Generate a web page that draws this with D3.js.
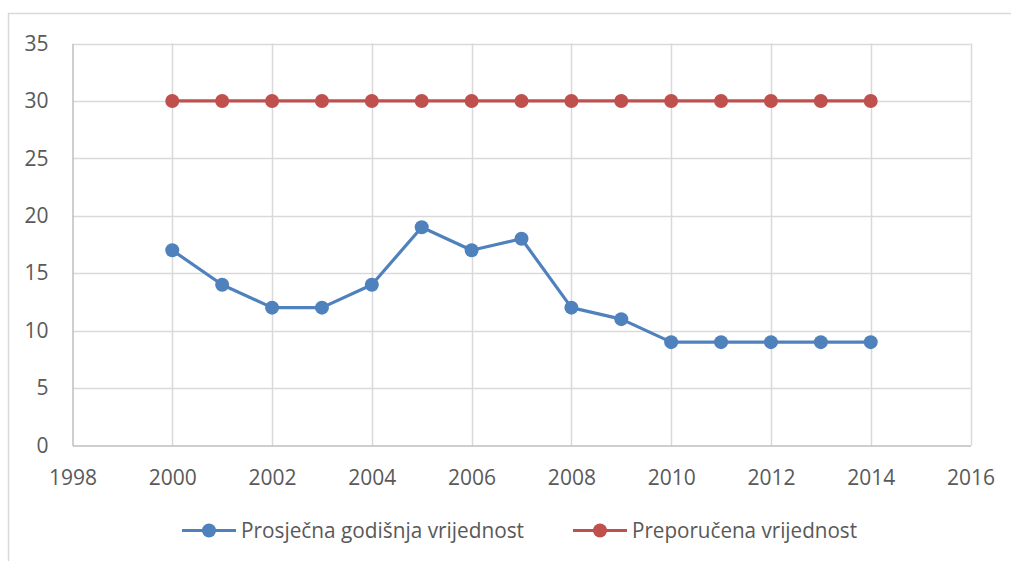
<!DOCTYPE html>
<html><head><meta charset="utf-8">
<script src="https://cdn.jsdelivr.net/npm/d3@7"></script>
<style>body{margin:0;background:#fff}svg{display:block}</style>
</head><body>
<svg id="c" width="1011" height="561"></svg>
<script>
const years = [2000,2001,2002,2003,2004,2005,2006,2007,2008,2009,2010,2011,2012,2013,2014];
const prosjecna = [17,14,12,12,14,19,17,18,12,11,9,9,9,9,9];
const preporucena = [30,30,30,30,30,30,30,30,30,30,30,30,30,30,30];
const seriesNames = ["Prosječna godišnja vrijednost","Preporučena vrijednost"];
const colors = ["#4f81bd","#c0504d"];
const xTicks = [1998,2000,2002,2004,2006,2008,2010,2012,2014,2016];
const yTicks = [0,5,10,15,20,25,30,35];

const svg = d3.select("#c");
const font = "'Open Sans', sans-serif";
// outer chart border
svg.append("rect").attr("x",8.5).attr("y",13.5).attr("width",1010).attr("height",560)
  .attr("fill","none").attr("stroke","#d9d9d9").attr("stroke-width",1.5);

const x = d3.scaleLinear().domain([1998,2016]).range([72.5,970.5]);
const y = d3.scaleLinear().domain([0,35]).range([445.5,43.5]);

const g = svg.append("g");
// gridlines
g.selectAll(".hg").data(yTicks.filter(d=>d>0)).join("line")
  .attr("x1",x(1998)).attr("x2",x(2016)).attr("y1",d=>Math.round(y(d))+0.5).attr("y2",d=>Math.round(y(d))+0.5)
  .attr("stroke","#d9d9d9").attr("stroke-width",1.5);
g.selectAll(".vg").data(xTicks.filter(d=>d>1998)).join("line")
  .attr("y1",y(0)).attr("y2",y(35)).attr("x1",d=>Math.round(x(d))+0.5).attr("x2",d=>Math.round(x(d))+0.5)
  .attr("stroke","#d9d9d9").attr("stroke-width",1.5);

// axes
const xAxis = d3.axisBottom(x).tickValues(xTicks).tickFormat(d3.format("d")).tickSize(0).tickPadding(25);
const yAxis = d3.axisLeft(y).tickValues(yTicks).tickSize(0).tickPadding(24);
const gx = svg.append("g").attr("transform",`translate(0,${y(0)})`).call(xAxis);
const gy = svg.append("g").attr("transform",`translate(${x(1998)},0)`).call(yAxis);
[gx,gy].forEach(a=>{
  a.select(".domain").attr("stroke","#bfbfbf").attr("stroke-width",1.5);
  a.selectAll("text").attr("fill","#595959").style("font-family",font).style("font-size","21px");
});

const data = [prosjecna, preporucena];
const line = d3.line().x((d,i)=>x(years[i])).y(d=>y(d));
data.forEach((s,k)=>{
  svg.append("path").datum(s).attr("d",line).attr("fill","none")
    .attr("stroke",colors[k]).attr("stroke-width",3.2).attr("stroke-linejoin","round");
  svg.selectAll(null).data(s).join("circle")
    .attr("cx",(d,i)=>x(years[i])).attr("cy",d=>y(d)).attr("r",7).attr("fill",colors[k]);
});

// legend
const legX = [182,573];
const legW = [283,225];
const leg = svg.append("g");
seriesNames.forEach((n,k)=>{
  const lx = legX[k], ly = 530.5;
  leg.append("line").attr("x1",lx).attr("x2",lx+54).attr("y1",ly).attr("y2",ly)
    .attr("stroke",colors[k]).attr("stroke-width",3.2);
  leg.append("circle").attr("cx",lx+27).attr("cy",ly).attr("r",7).attr("fill",colors[k]);
  leg.append("text").attr("x",lx+59).attr("y",ly+7.5).text(n)
    .attr("textLength",legW[k]).attr("lengthAdjust","spacingAndGlyphs")
    .attr("fill","#595959").style("font-family",font).style("font-size","21px");
});
</script>
</body></html>
